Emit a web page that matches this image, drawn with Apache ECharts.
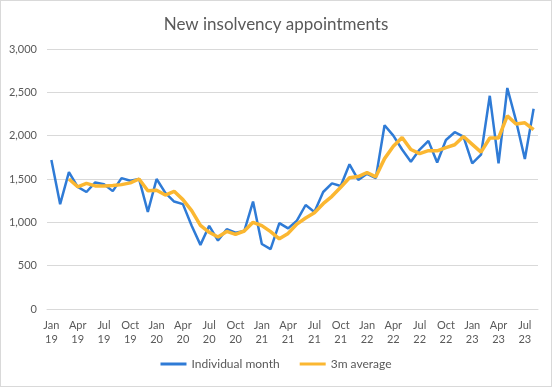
<!DOCTYPE html>
<html>
<head>
<meta charset="utf-8">
<script src="https://cdn.jsdelivr.net/npm/echarts@6/dist/echarts.min.js"></script>
<style>
html,body{margin:0;padding:0;background:#fff;}
#c{position:absolute;left:0;top:0;width:550px;height:385px;border:1px solid #d9d9d9;}
</style>
</head>
<body>
<div id="c"></div>
<script>
const months = ["Jan","Feb","Mar","Apr","May","Jun","Jul","Aug","Sep","Oct","Nov","Dec"];
const years = ["19","20","21","22","23"];
const categories = [];
for (const y of years) for (const m of months) categories.push(m + "\n" + y);
categories.length = 56; // Jan 19 .. Aug 23

const individualMonth = [
  1720,1210,1580,1410,1350,1460,1440,1360,1510,1480,1500,1120,
  1500,1340,1240,1210,960,740,960,790,920,880,900,1240,
  750,690,990,930,1020,1200,1120,1350,1450,1420,1670,1490,
  1560,1510,2120,2000,1840,1700,1840,1940,1690,1950,2040,1990,
  1680,1780,2460,1680,2550,2170,1730,2310
];
const threeMonthAverage = [
  null,null,1500,1410,1450,1420,1420,1425,1435,1455,1500,1365,
  1370,1315,1358,1262,1135,965,885,830,895,862,900,1000,
  962,893,810,872,980,1050,1110,1215,1300,1405,1515,1528,
  1575,1525,1735,1877,1980,1840,1792,1827,1825,1862,1895,1990,
  1900,1810,1973,1973,2228,2135,2148,2070
];

const chart = echarts.init(document.getElementById('c'), null, {renderer:'canvas'});
const font = 'Lato, "Open Sans", "Liberation Sans", sans-serif';
chart.setOption({
  animation:false,
  title:{text:'New insolvency appointments',left:'center',top:10,
    textStyle:{fontFamily:font,fontSize:17,fontWeight:'normal',color:'#595959'}},
  grid:{left:46,right:13,top:48,bottom:77},
  legend:{bottom:11,left:'center',itemWidth:26,itemHeight:3,itemGap:20,
    icon:'rect',
    textStyle:{fontFamily:font,fontSize:12,color:'#595959'},
    data:['Individual month','3m average']},
  xAxis:{type:'category',data:categories,boundaryGap:true,
    axisLine:{lineStyle:{color:'#d9d9d9'}},
    axisTick:{interval:2,length:5,lineStyle:{color:'#d9d9d9'}},
    axisLabel:{interval:2,color:'#595959',fontFamily:font,fontSize:11,lineHeight:14,margin:9}},
  yAxis:{type:'value',min:0,max:3000,interval:500,
    axisLine:{show:false},axisTick:{show:false},
    splitLine:{lineStyle:{color:'#d9d9d9'}},
    axisLabel:{color:'#595959',fontFamily:font,fontSize:11,margin:10,
      formatter:v=>v.toLocaleString('en-US')}},
  series:[
    {name:'Individual month',type:'line',data:individualMonth,symbol:'none',
      lineStyle:{color:'#2F7BD6',width:2.5},itemStyle:{color:'#2F7BD6'},z:2},
    {name:'3m average',type:'line',data:threeMonthAverage,symbol:'none',
      lineStyle:{color:'#FBB731',width:3.5},itemStyle:{color:'#FBB731'},z:3}
  ]
});
</script>
</body>
</html>
